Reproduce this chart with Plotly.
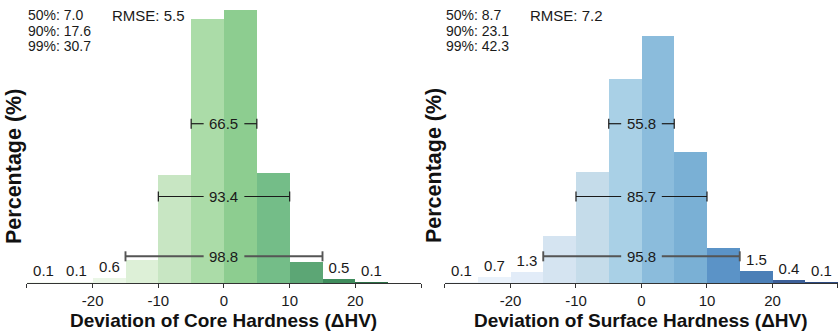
import plotly.graph_objects as go

# Histogram bins of hardness deviation (HV), width 5, centred values
bin_centers = [-27.5, -22.5, -17.5, -12.5, -7.5, -2.5, 2.5, 7.5, 12.5, 17.5, 22.5, 27.5]
bin_width = 5

# Percentage of samples in each bin
core_pct = [0.1, 0.1, 0.6, 2.8, 13.3, 32.7, 33.8, 13.6, 2.6, 0.5, 0.1, 0.0]
surface_pct = [0.1, 0.7, 1.3, 5.8, 13.7, 25.2, 30.6, 16.2, 4.3, 1.5, 0.4, 0.1]

# Which bins carry a value label above the bar
core_labelled = [True, True, True, False, False, False, False, False, False, True, True, False]
surface_labelled = [True, True, True, False, False, False, False, False, False, True, True, True]

# Error summary statistics
stat_names = ["50%", "90%", "99%"]
core_stats = [7.0, 17.6, 30.7]
surface_stats = [8.7, 23.1, 42.3]
core_rmse = 5.5
surface_rmse = 7.2

# Interval brackets (+/- half width) and the height where they are drawn
bracket_halfwidths = [5, 10, 15]
bracket_levels = [19.7, 10.7, 3.3]

core_colors = ["#f5fbf3", "#f0f8ed", "#eaf6e6", "#ddf0d7", "#c8e6c3", "#abdca8",
               "#8dcd90", "#74bd88", "#5ca675", "#3f8c5c", "#2b6d45", "#1f5535"]
surface_colors = ["#f2f8fd", "#eaf2fb", "#e2ecf8", "#d5e4f1", "#c5dcea", "#a9d0e6",
                  "#8bbcdc", "#7ab0d5", "#5b93c7", "#4b7fb7", "#3c5f98", "#2c4a80"]

x_titles = ["Deviation of Core Hardness (\u0394HV)", "Deviation of Surface Hardness (\u0394HV)"]

FONT = "Liberation Sans, Arial, Helvetica, sans-serif"
TEXT_COLOR = "#1a1a1a"
PLOT_H = 283  # plot area height in px

panels = [
    dict(pct=core_pct, lab=core_labelled, colors=core_colors, stats=core_stats,
         rmse=core_rmse, title=x_titles[0], xa="x", ya="y", dom=[0.0322, 0.5024], ytitle_x=0.0167),
    dict(pct=surface_pct, lab=surface_labelled, colors=surface_colors, stats=surface_stats,
         rmse=surface_rmse, title=x_titles[1], xa="x2", ya="y2", dom=[0.531, 1.0], ytitle_x=0.518),
]

fig = go.Figure()
annotations = []

gap = 3.1      # half gap in the bracket line where the value is written
cap = 0.62     # half height of the bracket end caps
bracket_styles = [("#1a1a1a", 1.2), ("#1a1a1a", 1.2), ("#555555", 1.9)]

for p in panels:
    texts = [f"{v:.1f}" if show else "" for v, show in zip(p["pct"], p["lab"])]
    fig.add_trace(go.Bar(
        x=bin_centers, y=p["pct"], width=bin_width,
        marker=dict(color=p["colors"], line=dict(width=0)),
        text=texts, textposition="outside", cliponaxis=False, constraintext="none",
        textfont=dict(family=FONT, size=15, color=TEXT_COLOR),
        xaxis=p["xa"], yaxis=p["ya"], showlegend=False, hoverinfo="skip",
    ))

    # coverage brackets: share of samples within +/- half width
    for hw, lvl, (col, lw) in zip(bracket_halfwidths, bracket_levels, bracket_styles):
        share = sum(v for c, v in zip(bin_centers, p["pct"]) if abs(c) < hw)
        xs = [-hw, -gap, None, gap, hw, None, -hw, -hw, None, hw, hw]
        ys = [lvl, lvl, None, lvl, lvl, None, lvl - cap, lvl + cap, None, lvl - cap, lvl + cap]
        fig.add_trace(go.Scatter(
            x=xs, y=ys, mode="lines", line=dict(color=col, width=lw),
            xaxis=p["xa"], yaxis=p["ya"], showlegend=False, hoverinfo="skip",
        ))
        annotations.append(dict(
            x=0, y=lvl, xref=p["xa"], yref=p["ya"], text=f"{share:.1f}",
            showarrow=False, xanchor="center", yanchor="middle",
            font=dict(family=FONT, size=15, color=TEXT_COLOR),
        ))

    # percentile statistics, top left
    for i, (name, val) in enumerate(zip(stat_names, p["stats"])):
        annotations.append(dict(
            x=-30, y=1 - (15 + 15.7 * i) / PLOT_H, xref=p["xa"], yref="paper",
            text=f"{name}: {val:.1f}", showarrow=False, xanchor="left", yanchor="middle",
            font=dict(family=FONT, size=14, color=TEXT_COLOR), borderpad=0,
        ))
    annotations.append(dict(
        x=-17.2, y=1 - 15 / PLOT_H, xref=p["xa"], yref="paper",
        text=f"RMSE: {p['rmse']:.1f}", showarrow=False, xanchor="left", yanchor="middle",
        font=dict(family=FONT, size=15, color=TEXT_COLOR), borderpad=0,
    ))

    # axis titles
    annotations.append(dict(
        x=0, y=0, xref=p["xa"], yref="paper", yshift=-37, text=f"<b>{p['title']}</b>",
        showarrow=False, xanchor="center", yanchor="middle",
        font=dict(family=FONT, size=19, color="#111111"),
    ))
    annotations.append(dict(
        x=p["ytitle_x"], y=(PLOT_H - 166) / PLOT_H, xref="paper", yref="paper",
        text="<b>Percentage (%)</b>", textangle=-90, showarrow=False,
        xanchor="center", yanchor="middle",
        font=dict(family=FONT, size=21.5, color="#111111"),
    ))

tick_vals = [-30, -20, -10, 0, 10, 20, 30]
tick_text = ["", "-20", "-10", "0", "10", "20", ""]

xaxis_common = dict(
    range=[-30, 30], showgrid=False, zeroline=False, showline=True,
    linecolor="#333333", linewidth=1, ticks="outside", ticklen=4, tickcolor="#333333",
    tickvals=tick_vals, ticktext=tick_text,
    tickfont=dict(family=FONT, size=15, color=TEXT_COLOR),
)
yaxis_common = dict(range=[0, 35], visible=False, showgrid=False, zeroline=False)

fig.update_layout(
    width=838, height=334,
    margin=dict(l=0, r=0, t=0, b=51),
    paper_bgcolor="white", plot_bgcolor="white",
    bargap=0,
    xaxis=dict(domain=panels[0]["dom"], anchor="y", **xaxis_common),
    xaxis2=dict(domain=panels[1]["dom"], anchor="y2", **xaxis_common),
    yaxis=dict(domain=[0, 1], anchor="x", **yaxis_common),
    yaxis2=dict(domain=[0, 1], anchor="x2", **yaxis_common),
    annotations=annotations,
    font=dict(family=FONT),
)

fig.write_html("out.html")
